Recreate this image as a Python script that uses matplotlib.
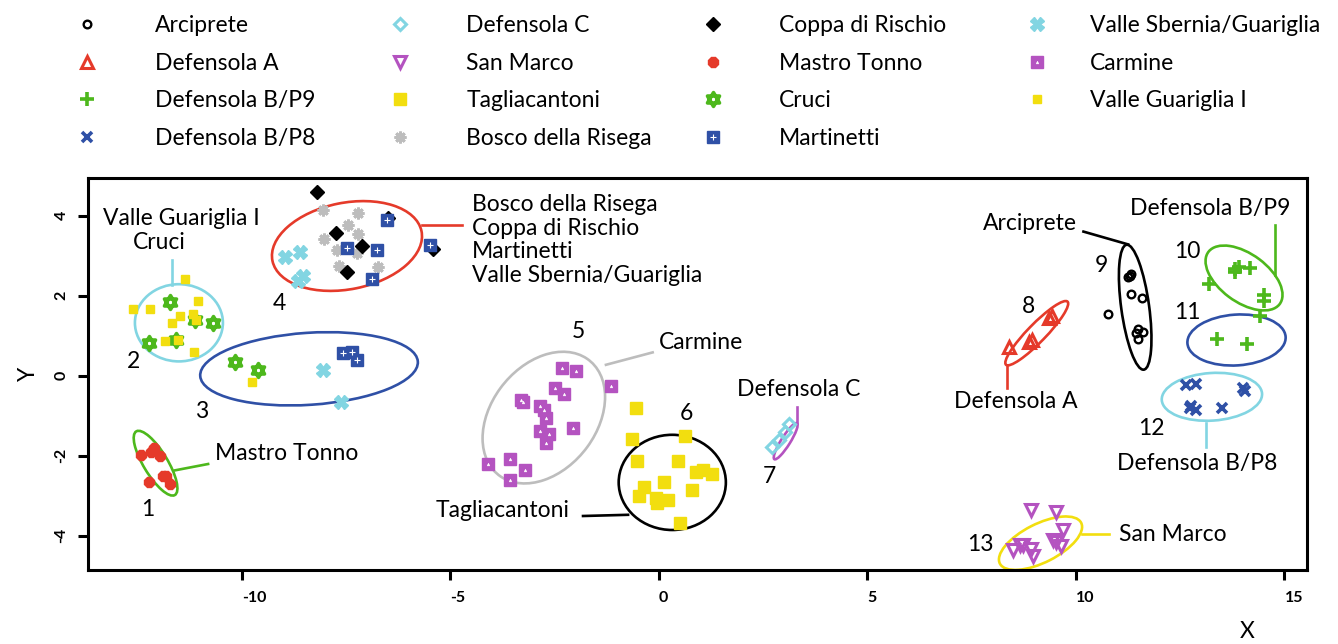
import matplotlib
matplotlib.use('Agg')
import matplotlib.pyplot as plt
from matplotlib.patches import Ellipse
from matplotlib.path import Path

plt.rcParams['font.family'] = ['Lato', 'DejaVu Sans']
plt.rcParams['axes.unicode_minus'] = False

RED = '#E53A2A'
GREEN = '#4DB81C'
BLUE = '#2F50A6'
CYAN = '#82D5E2'
PURPLE = '#B453C0'
YELLOW = '#F2DE0F'
GRAY = '#BDBDBD'

# site scores on the first two axes
arciprete_x = [11.29, 11.25, 11.31, 11.33, 11.59, 10.77, 11.48, 11.60, 11.45, 11.49]
arciprete_y = [2.50, 2.46, 2.53, 2.03, 1.93, 1.53, 1.17, 1.10, 1.06, 0.91]

defensola_a_x = [8.39, 8.88, 8.95, 9.36, 9.42]
defensola_a_y = [0.72, 0.85, 0.88, 1.45, 1.50]

defensola_p9_x = [13.81, 13.90, 13.82, 14.17, 13.18, 14.50, 14.50, 14.41, 13.39, 14.11]
defensola_p9_y = [2.66, 2.71, 2.60, 2.68, 2.29, 2.02, 1.87, 1.48, 0.91, 0.78]

defensola_p8_x = [12.65, 12.89, 12.77, 12.88, 12.73, 13.49, 14.01, 14.05]
defensola_p8_y = [-0.23, -0.21, -0.76, -0.86, -0.80, -0.82, -0.32, -0.38]

defensola_c_x = [2.72, 2.88, 3.02, 3.12]
defensola_c_y = [-1.78, -1.60, -1.42, -1.22]

san_marco_x = [8.93, 9.53, 9.70, 9.45, 9.53, 9.65, 8.48, 8.65, 8.73, 8.93, 8.97]
san_marco_y = [-3.36, -3.42, -3.86, -4.11, -4.17, -4.27, -4.36, -4.23, -4.23, -4.34, -4.51]

tagliacantoni_x = [-0.56, -0.65, 0.63, -0.52, 0.46, 0.88, 1.06, 1.27,
                   0.11, -0.36, 0.79, -0.47, -0.08, 0.21, -0.05, 0.51]
tagliacantoni_y = [-0.82, -1.59, -1.52, -2.14, -2.13, -2.42, -2.36, -2.46,
                   -2.65, -2.79, -2.86, -3.02, -3.05, -3.11, -3.19, -3.69]

bosco_x = [-8.05, -7.21, -7.45, -7.21, -8.03, -7.71, -7.25, -7.67, -6.73]
bosco_y = [4.13, 4.06, 3.77, 3.54, 3.41, 3.14, 3.06, 2.75, 2.71]

coppa_x = [-8.21, -7.75, -7.13, -7.49, -5.41, -6.49]
coppa_y = [4.58, 3.56, 3.25, 2.58, 3.17, 3.94]

mastro_tonno_x = [-12.41, -12.17, -12.11, -11.97, -11.89, -11.81, -12.23, -11.72]
mastro_tonno_y = [-1.98, -1.90, -1.82, -2.01, -2.51, -2.52, -2.67, -2.72]

cruci_x = [-11.73, -11.12, -10.69, -12.23, -11.59, -10.16, -9.62]
cruci_y = [1.84, 1.39, 1.31, 0.81, 0.89, 0.33, 0.13]

martinetti_x = [-6.51, -7.49, -6.75, -6.87, -5.49, -7.57, -7.37, -7.23]
martinetti_y = [3.89, 3.18, 3.13, 2.41, 3.27, 0.56, 0.60, 0.39]

sbernia_x = [-8.97, -8.61, -8.53, -8.65, -8.05, -7.62]
sbernia_y = [2.96, 3.08, 2.49, 2.37, 0.13, -0.65]

carmine_x = [-2.32, -1.98, -1.16, -2.50, -2.27, -3.26, -3.30, -2.86, -2.76,
             -2.70, -2.07, -2.86, -2.63, -2.70, -3.56, -4.10, -3.21, -3.56]
carmine_y = [0.18, 0.12, -0.25, -0.32, -0.47, -0.65, -0.60, -0.77, -0.86,
             -1.07, -1.30, -1.38, -1.47, -1.69, -2.08, -2.21, -2.36, -2.62]

guariglia_x = [-11.36, -12.61, -12.21, -11.06, -11.49, -11.18,
               -11.67, -11.09, -11.85, -11.54, -11.14, -9.76]
guariglia_y = [2.41, 1.66, 1.66, 1.87, 1.50, 1.54,
               1.31, 1.38, 0.87, 0.88, 0.60, -0.17]

# star of David marker (two overlapping triangles)
hexagram = Path(
    [(0, 1), (-0.866, -0.5), (0.866, -0.5), (0, 1),
     (0, -1), (-0.866, 0.5), (0.866, 0.5), (0, -1)],
    [Path.MOVETO, Path.LINETO, Path.LINETO, Path.CLOSEPOLY] * 2)

sites = [
    ('Arciprete', arciprete_x, arciprete_y,
     dict(marker='o', ms=5.5, mfc='none', mec='black', mew=1.7)),
    ('Defensola A', defensola_a_x, defensola_a_y,
     dict(marker='^', ms=8, mfc='none', mec=RED, mew=2.2)),
    ('Defensola B/P9', defensola_p9_x, defensola_p9_y,
     dict(marker='+', ms=10, mec=GREEN, mew=2.6)),
    ('Defensola B/P8', defensola_p8_x, defensola_p8_y,
     dict(marker='x', ms=7.5, mec=BLUE, mew=2.6)),
    ('Defensola C', defensola_c_x, defensola_c_y,
     dict(marker='D', ms=6.5, mfc='none', mec=CYAN, mew=2.2)),
    ('San Marco', san_marco_x, san_marco_y,
     dict(marker='v', ms=8, mfc='none', mec=PURPLE, mew=2.2)),
    ('Tagliacantoni', tagliacantoni_x, tagliacantoni_y,
     dict(marker='s', ms=8, mfc=YELLOW, mec=YELLOW, mew=1)),
    ('Bosco della Risega', bosco_x, bosco_y,
     dict(marker=(8, 2, 0), ms=8.5, mec=GRAY, mew=2.0)),
    ('Coppa di Rischio', coppa_x, coppa_y,
     dict(marker='D', ms=7.5, mfc='black', mec='black', mew=1)),
    ('Mastro Tonno', mastro_tonno_x, mastro_tonno_y,
     dict(marker='8', ms=8, mfc=RED, mec=RED, mew=1)),
    ('Cruci', cruci_x, cruci_y,
     dict(marker=hexagram, ms=10, mfc='none', mec=GREEN, mew=2.6)),
    ('Martinetti', martinetti_x, martinetti_y,
     dict(marker='s', ms=8, mfc=BLUE, mec=BLUE, mew=1)),
    ('Valle Sbernia/Guariglia', sbernia_x, sbernia_y,
     dict(marker='X', ms=10, mfc=CYAN, mec=CYAN, mew=1)),
    ('Carmine', carmine_x, carmine_y,
     dict(marker='s', ms=8, mfc=PURPLE, mec=PURPLE, mew=1)),
    ('Valle Guariglia I', guariglia_x, guariglia_y,
     dict(marker='s', ms=6, mfc=YELLOW, mec=YELLOW, mew=1)),
]

# small white inner marks drawn over the filled squares
inner_marks = {
    'Martinetti': dict(marker='+', ms=4, mec='white', mew=0.8),
    'Carmine': dict(marker='^', ms=2, mfc='white', mec='white', mew=0.3),
}

# group ellipses: centre, width, height, angle, colour
ellipses = [
    ((-12.07, -2.19), 1.84, 0.58, -60, GREEN),
    ((-11.51, 1.32), 2.11, 1.93, 0, CYAN),
    ((-8.39, 0.17), 5.23, 1.80, 4, BLUE),
    ((-7.48, 3.24), 3.65, 2.16, 12, RED),
    ((-2.76, -1.05), 3.60, 2.55, 55, GRAY),
    ((0.32, -2.67), 2.57, 2.38, 0, 'black'),
    ((3.04, -1.64), 1.05, 0.22, 59, PURPLE),
    ((9.06, 1.06), 2.16, 0.44, 47, RED),
    ((11.42, 1.71), 3.15, 0.67, 97.5, 'black'),
    ((14.03, 2.44), 2.15, 1.19, -38, GREEN),
    ((13.85, 0.89), 2.36, 1.27, 4, BLUE),
    ((13.26, -0.53), 2.41, 1.19, 4, CYAN),
    ((9.15, -4.19), 2.20, 0.96, 28, YELLOW),
]

# leader lines from ellipses to their labels
leaders = [
    ([-11.61, -10.81], [-2.37, -2.21], GREEN),
    ([-11.67, -11.67], [2.89, 2.26], CYAN),
    ([-5.69, -4.73], [3.77, 3.77], RED),
    ([-1.27, -0.15], [0.27, 0.58], GRAY),
    ([-1.82, -0.74], [-3.51, -3.48], 'black'),
    ([3.32, 3.32], [-0.78, -1.18], PURPLE),
    ([8.35, 8.35], [0.27, -0.32], RED),
    ([10.18, 11.25], [3.60, 3.28], 'black'),
    ([14.77, 14.77], [3.77, 2.52], GREEN),
    ([13.12, 13.12], [-1.19, -1.78], CYAN),
    ([10.14, 10.80], [-3.96, -3.96], YELLOW),
]

group_numbers = ['1', '2', '3', '4', '5', '6', '7', '8', '9', '10', '11', '12', '13']
number_pos = [(-12.25, -3.36), (-12.61, 0.35), (-10.97, -0.90), (-9.09, 1.81),
              (-1.94, 1.10), (0.65, -0.94), (2.65, -2.53), (8.86, 1.73),
              (10.62, 2.74), (12.67, 3.10), (12.67, 1.58), (11.81, -1.32),
              (7.70, -4.23)]

FS = 16.5

fig = plt.figure(figsize=(13.38, 6.44), dpi=100)
ax = fig.add_axes([88 / 1338, 74 / 644, 1219 / 1338, 392 / 644])

handles = []
for name, xs, ys, style in sites:
    h, = ax.plot(xs, ys, linestyle='none', zorder=3, **style)
    if name in inner_marks:
        h2, = ax.plot(xs, ys, linestyle='none', zorder=4, **inner_marks[name])
        h = (h, h2)
    handles.append((h, name))

for centre, w, hgt, ang, col in ellipses:
    ax.add_patch(Ellipse(centre, w, hgt, angle=ang, fill=False,
                         edgecolor=col, linewidth=1.9, zorder=2))

for xs, ys, col in leaders:
    ax.plot(xs, ys, color=col, linewidth=1.9, zorder=2)

for num, (tx, ty) in zip(group_numbers, number_pos):
    ax.text(tx, ty, num, fontsize=FS, ha='center', va='center')

ax.text(-11.46, 3.94, 'Valle Guariglia I', fontsize=FS, ha='center', va='center')
ax.text(-11.97, 3.32, 'Cruci', fontsize=FS, ha='center', va='center')
ax.text(-10.65, -1.94, 'Mastro Tonno', fontsize=FS, ha='left', va='center')
ax.text(-4.49, 3.39, 'Bosco della Risega\nCoppa di Rischio\nMartinetti\nValle Sbernia/Guariglia',
        fontsize=FS, ha='left', va='center', linespacing=1.14)
ax.text(0.01, 0.83, 'Carmine', fontsize=FS, ha='left', va='center')
ax.text(-2.15, -3.37, 'Tagliacantoni', fontsize=FS, ha='right', va='center')
ax.text(3.36, -0.36, 'Defensola C', fontsize=FS, ha='center', va='center')
ax.text(8.55, -0.65, 'Defensola A', fontsize=FS, ha='center', va='center')
ax.text(10.03, 3.81, 'Arciprete', fontsize=FS, ha='right', va='center')
ax.text(13.23, 4.18, 'Defensola B/P9', fontsize=FS, ha='center', va='center')
ax.text(12.91, -2.19, 'Defensola B/P8', fontsize=FS, ha='center', va='center')
ax.text(11.04, -3.98, 'San Marco', fontsize=FS, ha='left', va='center')

ax.set_xlim(-13.69, 15.54)
ax.set_ylim(-4.86, 4.94)
ax.set_xticks([-10, -5, 0, 5, 10, 15])
ax.set_yticks([-4, -2, 0, 2, 4])
for sp in ax.spines.values():
    sp.set_linewidth(2.2)
ax.tick_params(direction='out', length=7, width=2.2, labelsize=11.5)
ax.tick_params(axis='x', pad=8)
ax.tick_params(axis='y', pad=7)
for lbl in ax.get_xticklabels():
    lbl.set_ha('left')
    lbl.set_fontweight('bold')
for lbl in ax.get_yticklabels():
    lbl.set_rotation(90)
    lbl.set_va('center')
    lbl.set_fontweight('bold')

ax.set_xlabel('X', fontsize=FS)
ax.set_ylabel('Y', fontsize=FS)
ax.xaxis.set_label_coords(0.951, -0.158)
ax.xaxis.label.set_va('center')
ax.yaxis.set_label_coords(-0.049, 0.5)
ax.yaxis.label.set_va('center')

# legend in four columns above the plot
col_x = [64, 377, 690, 1014]
col_pad = [1.97, 1.89, 1.89, 1.32]
for c in range(4):
    chunk = handles[c * 4:(c + 1) * 4]
    fig.legend([h for h, _ in chunk], [n for _, n in chunk],
               loc='upper left', bbox_to_anchor=(col_x[c] / 1338, 0.976),
               frameon=False, fontsize=FS, handlelength=2.0,
               handletextpad=col_pad[c], labelspacing=0.72,
               borderpad=0, borderaxespad=0)

fig.savefig('out.png', dpi=100, facecolor='white')
